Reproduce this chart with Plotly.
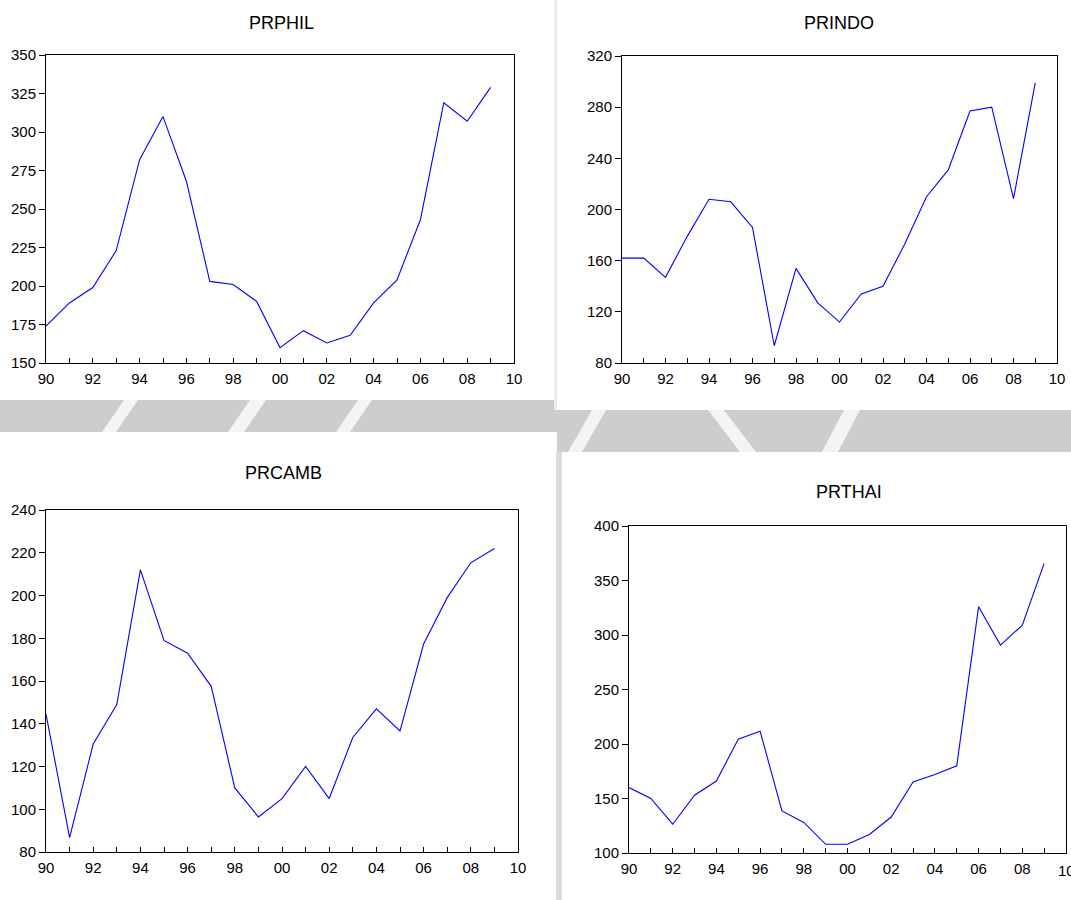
import plotly.graph_objects as go

years = list(range(1990, 2010))
x_tickvals = list(range(1990, 2011, 2))
x_ticktext = ["90", "92", "94", "96", "98", "00", "02", "04", "06", "08", "10"]

prphil = [174, 189, 199, 223, 282, 310, 268, 203, 201, 190,
          160, 171, 163, 168, 189, 204, 243, 319, 307, 329]
prindo = [162, 162, 147, 179, 208, 206, 186, 93.5, 154, 127,
          112, 134, 140, 173, 210, 231, 277, 280, 208.5, 299]
prcamb = [144.5, 86.7, 130.5, 149, 212, 179, 173, 157.5, 110, 96.4,
          105, 120, 105, 133.6, 147, 136.6, 177.3, 199, 215.3, 222]
prthai = [160, 150, 126.4, 153, 166, 204.4, 211.8, 138.6, 128, 108,
          108, 117, 133, 165.2, 172, 180, 326, 290.7, 309, 365.7]

panels = [
    ("PRPHIL", prphil, [150, 350], 25),
    ("PRINDO", prindo, [80, 320], 40),
    ("PRCAMB", prcamb, [80, 240], 20),
    ("PRTHAI", prthai, [100, 400], 50),
]

W, H = 1071, 900
# plot boxes in pixels: (left, right, top, bottom)
boxes = [(46, 514, 55, 363), (622, 1057, 56, 363), (46, 518, 510, 852), (629, 1066, 526, 853)]
title_pos = [(281, 23), (839, 23), (283, 473), (849, 492)]

FONT = "Liberation Sans, Arial, sans-serif"
TICK_SIZE = 15
fig = go.Figure()


def px_path(points):
    """Closed SVG path in paper coordinates from pixel points."""
    pts = [(x / W, 1 - y / H) for x, y in points]
    return "M " + " L ".join(f"{a:.5f},{b:.5f}" for a, b in pts) + " Z"


# light gray watermark bands with white diagonal breaks
gray = "#cdcdcd"
shapes = [
    dict(type="rect", xref="paper", yref="paper", x0=0, x1=557 / W, y0=1 - 432 / H, y1=1 - 400 / H,
         fillcolor=gray, line_width=0, layer="below"),
    dict(type="rect", xref="paper", yref="paper", x0=557 / W, x1=1, y0=1 - 452 / H, y1=1 - 410 / H,
         fillcolor=gray, line_width=0, layer="below"),
    dict(type="rect", xref="paper", yref="paper", x0=556 / W, x1=562 / W, y0=0, y1=1 - 452 / H,
         fillcolor="#dcdcdc", line_width=0, layer="below"),
    dict(type="rect", xref="paper", yref="paper", x0=554 / W, x1=557 / W, y0=1 - 410 / H, y1=1,
         fillcolor="#ececec", line_width=0, layer="below"),
]
white_breaks = [
    [(102, 432), (116, 432), (138, 400), (124, 400)],
    [(228, 432), (244, 432), (266, 400), (250, 400)],
    [(336, 432), (350, 432), (372, 400), (358, 400)],
    [(568, 452), (582, 452), (606, 410), (592, 410)],
    [(708, 410), (724, 410), (756, 452), (740, 452)],
    [(822, 452), (838, 452), (860, 410), (844, 410)],
]
for pts in white_breaks:
    shapes.append(dict(type="path", xref="paper", yref="paper", path=px_path(pts),
                       fillcolor="#f4f4f4", line_width=0, layer="below"))

annotations = []
for i, (name, vals, yr, dt) in enumerate(panels):
    n = i + 1
    xa = "x" if n == 1 else f"x{n}"
    ya = "y" if n == 1 else f"y{n}"
    fig.add_trace(go.Scatter(x=years, y=vals, mode="lines", line=dict(color="#0000ff", width=1.1),
                             xaxis=xa, yaxis=ya, showlegend=False, hoverinfo="skip"))
    l, r, t, b = boxes[i]
    xkey = "xaxis" if n == 1 else f"xaxis{n}"
    ykey = "yaxis" if n == 1 else f"yaxis{n}"
    fig.layout[xkey] = dict(
        domain=[l / W, r / W], anchor=ya, range=[1990, 2010], automargin=False,
        tickmode="array", tickvals=x_tickvals, ticktext=x_ticktext,
        ticks="inside", ticklen=5, tickwidth=1, tickcolor="black", ticklabelstandoff=2,
        minor=dict(tickmode="array", tickvals=list(range(1991, 2010, 2)), ticks="inside",
                   ticklen=5, tickwidth=1, tickcolor="black", showgrid=False),
        showline=True, linecolor="black", linewidth=1, mirror=True,
        showgrid=False, zeroline=False,
        tickfont=dict(family=FONT, size=TICK_SIZE, color="black"),
    )
    fig.layout[ykey] = dict(
        domain=[1 - b / H, 1 - t / H], anchor=xa, range=yr, dtick=dt, tick0=0, automargin=False,
        ticks="outside", ticklen=6, tickwidth=1, tickcolor="black",
        showline=True, linecolor="black", linewidth=1, mirror=True,
        showgrid=False, zeroline=False,
        tickfont=dict(family=FONT, size=TICK_SIZE, color="black"),
    )
    tx, ty = title_pos[i]
    annotations.append(dict(text=name, x=tx / W, y=1 - ty / H, xref="paper", yref="paper",
                            showarrow=False, xanchor="center", yanchor="middle",
                            font=dict(family=FONT, size=18, color="black")))

# last x tick label of the bottom-right panel runs past the page edge (partly visible)
annotations.append(dict(text=x_ticktext[-1], x=x_tickvals[-1], xref="x4", y=1 - 870 / H, yref="paper",
                        showarrow=False, xanchor="center", yanchor="middle",
                        font=dict(family=FONT, size=TICK_SIZE, color="black")))

fig.update_layout(
    width=W, height=H, margin=dict(l=0, r=0, t=0, b=0, autoexpand=False),
    paper_bgcolor="white", plot_bgcolor="white",
    shapes=shapes, annotations=annotations,
)

fig.write_html(
    "out.html",
    config={"displayModeBar": False},
    post_script="document.documentElement.style.margin='0';document.body.style.margin='0';"
                "document.body.style.overflow='hidden';document.documentElement.style.overflow='hidden';",
)
